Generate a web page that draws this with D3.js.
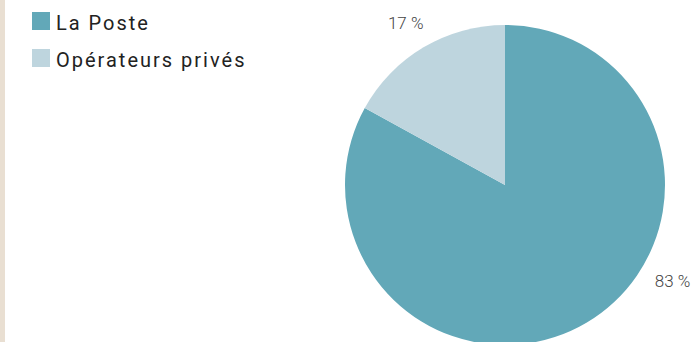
<!DOCTYPE html>
<html><head><meta charset="utf-8">
<script src="https://cdn.jsdelivr.net/npm/d3@7"></script>
<style>
html,body{margin:0;padding:0;background:#fff;}
svg{display:block;}
</style></head>
<body>
<script>
const categories = ["La Poste", "Opérateurs privés"];
const values = [83, 17];
const valueLabels = ["83 %", "17 %"];
const colors = ["#62a8b8", "#bed5de"];

const W = 700, H = 342;
const svg = d3.select("body").append("svg").attr("width", W).attr("height", H);

svg.append("rect").attr("x", 0).attr("y", 0).attr("width", 5).attr("height", H).attr("fill", "#e9dfd2");

const cx = 505, cy = 185, R = 160;
const pie = d3.pie().sort(null).value(d => d)(values);
const arc = d3.arc().innerRadius(0).outerRadius(R);
const g = svg.append("g").attr("transform", `translate(${cx},${cy})`);
g.selectAll("path").data(pie).join("path").attr("d", arc).attr("fill", (d, i) => colors[i]);

// label placement: angle adjustments (layout) so labels stay visible
const labelAngle = [2.09, -0.55];
const labelR = [193, 190];
g.selectAll("text").data(pie).join("text")
  .attr("x", (d, i) => labelR[i] * Math.sin(labelAngle[i]))
  .attr("y", (d, i) => -labelR[i] * Math.cos(labelAngle[i]))
  .attr("text-anchor", "middle").attr("dominant-baseline", "central")
  .attr("font-family", "Roboto, sans-serif").attr("font-weight", 300)
  .attr("font-size", 17).attr("fill", "#444")
  .text((d, i) => valueLabels[i]);

const leg = svg.append("g");
categories.forEach((c, i) => {
  const y = 12 + i * 37;
  leg.append("rect").attr("x", 32).attr("y", y).attr("width", 18).attr("height", 18).attr("fill", colors[i]);
  leg.append("text").attr("x", 56).attr("y", y + 18)
    .attr("font-family", "Roboto, sans-serif").attr("font-size", 20)
    .attr("letter-spacing", 2).attr("fill", "#222").text(c);
});
</script>
</body></html>
